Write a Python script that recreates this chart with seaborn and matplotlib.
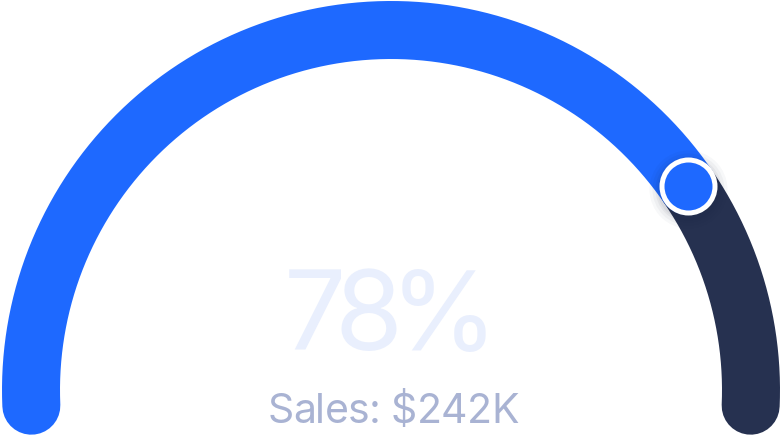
import numpy as np
import pandas as pd
import matplotlib
matplotlib.use("Agg")
import matplotlib.pyplot as plt
import seaborn as sns

# gauge data
pct_value = 78
sales_label = "Sales: $242K"
track_colors = ["#1e69ff", "#263150"]

# geometry (pixel canvas)
W, H = 782, 438
cx, cy, r = 391, 390, 360
start_deg, end_deg = 182.5, -2.5
deg_per_pct = 1.865

sns.set_theme(style="white")
plt.rcParams['font.family'] = ['Inter', 'DejaVu Sans']

fig = plt.figure(figsize=(W / 100, H / 100), dpi=100)
ax = fig.add_axes([0, 0, 1, 1])
ax.set_xlim(0, W)
ax.set_ylim(H, 0)
ax.axis("off")

knob_deg = 180 - pct_value * deg_per_pct


def arc(a0, a1, n=300):
    t = np.radians(np.linspace(a0, a1, n))
    return pd.DataFrame({"x": cx + r * np.cos(t), "y": cy - r * np.sin(t),
                         "i": np.arange(n)})


lw = 58 * 0.72
# remaining part first, then the filled part
sns.lineplot(data=arc(knob_deg, end_deg), x="x", y="y", sort=False, estimator=None,
             color=track_colors[1], linewidth=lw, solid_capstyle="round", ax=ax)
sns.lineplot(data=arc(start_deg, knob_deg), x="x", y="y", sort=False, estimator=None,
             color=track_colors[0], linewidth=lw, solid_capstyle="round", ax=ax)

# knob with soft shadow
kx = cx + r * np.cos(np.radians(knob_deg))
ky = cy - r * np.sin(np.radians(knob_deg))
knob = pd.DataFrame({"x": [kx], "y": [ky + 3]})
for d, a in [(78, 0.03), (72, 0.04), (66, 0.05), (62, 0.06)]:
    sns.scatterplot(data=knob, x="x", y="y", s=(d * 0.72) ** 2, color="#1a2340",
                    alpha=a, linewidth=0, ax=ax, zorder=4)
knob = pd.DataFrame({"x": [kx], "y": [ky]})
sns.scatterplot(data=knob, x="x", y="y", s=(53 * 0.72) ** 2, color=track_colors[0],
                edgecolor="white", linewidth=5 * 0.72, ax=ax, zorder=5)


def tracked_text(x, y, s, size, color, track):
    # draw chars one by one so letter spacing can be tightened
    renderer = fig.canvas.get_renderer()
    widths = []
    for ch in s:
        t = ax.text(0, 0, ch, fontsize=size)
        widths.append(t.get_window_extent(renderer).width)
        t.remove()
    total = sum(widths) + track * (len(s) - 1)
    left = x - total / 2
    for ch, w in zip(s, widths):
        ax.text(left, y, ch, ha="left", va="baseline", fontsize=size, color=color)
        left += w + track


tracked_text(391, 350, f"{pct_value}%", 110 * 0.72, "#e9effd", -12)
tracked_text(393, 423, sales_label, 41 * 0.72, "#a9b3d3", -0.6)

fig.savefig("out.png", dpi=100)
